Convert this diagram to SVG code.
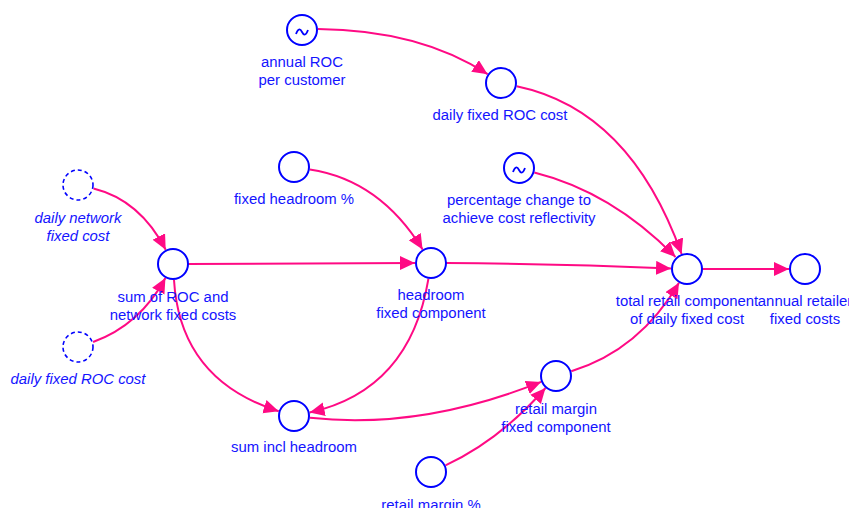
<svg xmlns="http://www.w3.org/2000/svg" width="849" height="508" viewBox="0 0 849 508">
  <style>
    .node { fill: #ffffff; stroke: #0000ff; stroke-width: 2; }
    .ghost { fill: #ffffff; stroke: #0000ff; stroke-width: 1.6; stroke-dasharray: 4 3; }
    .lbl { font-family: "Liberation Sans", Arial, sans-serif; font-size: 14.9px; fill: #1414ff; text-anchor: middle; }
    .it { font-style: italic; }
    .wave { fill: none; stroke: #0000ff; stroke-width: 1.8; }
    .link { fill: none; stroke: #ff0a84; stroke-width: 2; marker-end: url(#arrow); }
  </style>
  <defs>
    <marker id="arrow" markerUnits="userSpaceOnUse" markerWidth="16" markerHeight="15" refX="15" refY="7" orient="auto">
      <path d="M0,0 L15,7 L0,14 z" fill="#ff0a84"/>
    </marker>
  </defs>

  <g id="connectors">
    <path class="link" d="M318,29 Q420,30 487.6,74.2"/>
    <path class="link" d="M516.7,86.3 Q630,110 681.6,254"/>
    <path class="link" d="M534.3,172.5 Q612,192 675.5,257"/>
    <path class="link" d="M309.8,169.4 Q380,180 422.6,249.4"/>
    <path class="link" d="M93.5,188.5 Q140,200 165.7,249.8"/>
    <path class="link" d="M93.1,342 Q140,325 165.4,278"/>
    <path class="link" d="M188,264 L415,263"/>
    <path class="link" d="M446,263 Q560,264 671,268.4"/>
    <path class="link" d="M702,269 L789,269"/>
    <path class="link" d="M174,280 Q180,380 278.7,411.2"/>
    <path class="link" d="M428.4,278.8 Q410,390 309.6,412.5"/>
    <path class="link" d="M310,417.8 Q420,430 541.1,381.9"/>
    <path class="link" d="M445.5,465.3 Q500,440 545.5,388"/>
    <path class="link" d="M571.3,371.3 Q640,350 679,282.8"/>
  </g>

  <g id="annual-roc-per-customer">
    <circle class="node" cx="302" cy="30" r="15"/>
    <path class="wave" d="M296,34 Q299,26 302,32 T308,30"/>
    <text class="lbl" x="302" y="67">annual ROC</text>
    <text class="lbl" x="302" y="85">per customer</text>
  </g>

  <g id="daily-fixed-roc-cost">
    <circle class="node" cx="501" cy="83" r="15"/>
    <text class="lbl" x="500" y="120">daily fixed ROC cost</text>
  </g>

  <g id="fixed-headroom-pct">
    <circle class="node" cx="294" cy="167" r="15"/>
    <text class="lbl" x="294" y="204">fixed headroom %</text>
  </g>

  <g id="pct-change-cost-reflectivity">
    <circle class="node" cx="519" cy="168" r="15"/>
    <path class="wave" d="M513,172 Q516,164 519,170 T525,168"/>
    <text class="lbl" x="519" y="205">percentage change to</text>
    <text class="lbl" x="519" y="223">achieve cost reflectivity</text>
  </g>

  <g id="daily-network-fixed-cost-ghost">
    <circle class="ghost" cx="78" cy="185" r="15"/>
    <text class="lbl it" x="78" y="223">daily network</text>
    <text class="lbl it" x="78" y="241">fixed cost</text>
  </g>

  <g id="daily-fixed-roc-cost-ghost">
    <circle class="ghost" cx="78" cy="347" r="15"/>
    <text class="lbl it" x="78" y="384">daily fixed ROC cost</text>
  </g>

  <g id="sum-roc-network">
    <circle class="node" cx="173" cy="264" r="15"/>
    <text class="lbl" x="173" y="302">sum of ROC and</text>
    <text class="lbl" x="173" y="320">network fixed costs</text>
  </g>

  <g id="headroom-fixed-component">
    <circle class="node" cx="431" cy="263" r="15"/>
    <text class="lbl" x="431" y="300">headroom</text>
    <text class="lbl" x="431" y="318">fixed component</text>
  </g>

  <g id="total-retail-component">
    <circle class="node" cx="687" cy="269" r="15"/>
    <text class="lbl" x="687" y="306">total retail component</text>
    <text class="lbl" x="687" y="324">of daily fixed cost</text>
  </g>

  <g id="annual-retailer-fixed-costs">
    <circle class="node" cx="805" cy="269" r="15"/>
    <text class="lbl" x="805" y="306">annual retailer</text>
    <text class="lbl" x="805" y="324">fixed costs</text>
  </g>

  <g id="sum-incl-headroom">
    <circle class="node" cx="294" cy="416" r="15"/>
    <text class="lbl" x="294" y="452">sum incl headroom</text>
  </g>

  <g id="retail-margin-fixed-component">
    <circle class="node" cx="556" cy="376" r="15"/>
    <text class="lbl" x="556" y="414">retail margin</text>
    <text class="lbl" x="556" y="432">fixed component</text>
  </g>

  <g id="retail-margin-pct">
    <circle class="node" cx="431" cy="472" r="15"/>
    <text class="lbl" x="431" y="510">retail margin %</text>
  </g>
</svg>
